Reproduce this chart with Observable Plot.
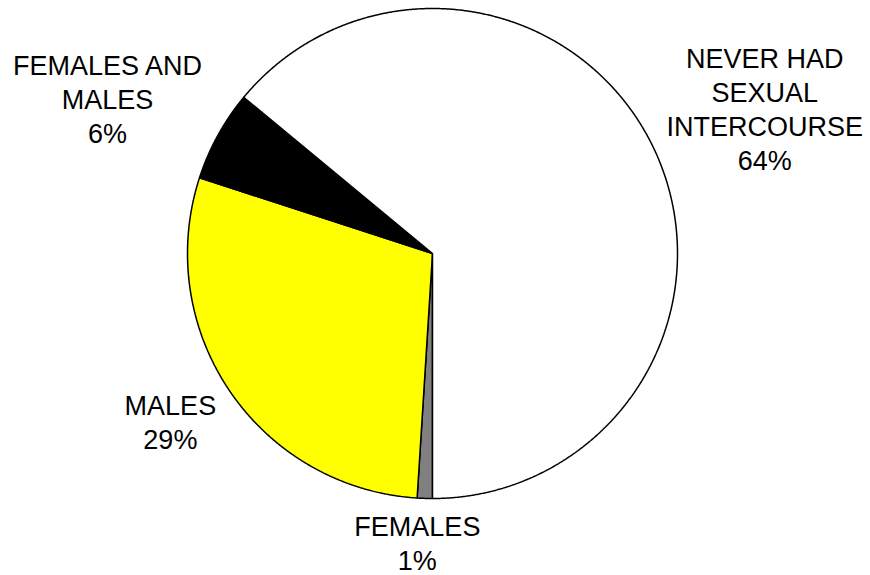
<!DOCTYPE html>
<html>
<head>
<meta charset="utf-8">
<script src="https://cdn.jsdelivr.net/npm/d3@7"></script>
<script src="https://cdn.jsdelivr.net/npm/@observablehq/plot@0.6"></script>
<style>
  html, body { margin: 0; padding: 0; background: #fff; }
</style>
</head>
<body>
<div id="chart"></div>
<script>
// Data
const categories = ["FEMALES", "MALES", "FEMALES AND MALES", "NEVER HAD SEXUAL INTERCOURSE"];
const labelTexts = ["FEMALES", "MALES", "FEMALES AND\nMALES", "NEVER HAD\nSEXUAL\nINTERCOURSE"];
const percents = [1, 29, 6, 64];
const colors = ["#808080", "#ffff00", "#000000", "#ffffff"];

// Label layout (style): angle nudge in degrees, distance as fraction of radius
const labelLayout = [
  {nudge: 1.2, k: 1.18},
  {nudge: 1.6, k: 1.27},
  {nudge: -3.3, k: 1.47},
  {nudge: 1.6, k: 1.48}
];

const table = categories.map((c, i) => ({category: c, label: labelTexts[i] + "\n" + percents[i] + "%", value: percents[i], color: colors[i]}));

// Slices clockwise starting at 6 o'clock
const arcs = d3.pie().sort(null).value(d => d.value).startAngle(Math.PI).endAngle(3 * Math.PI)(table);

// Build polygon outline points for each slice (angle measured clockwise from top)
const slicePts = [];
arcs.forEach(a => {
  const name = a.data.category;
  slicePts.push({category: name, x: 0, y: 0});
  const n = Math.max(4, Math.ceil((a.endAngle - a.startAngle) / (Math.PI / 720)));
  for (let j = 0; j <= n; j++) {
    const t = a.startAngle + (a.endAngle - a.startAngle) * j / n;
    slicePts.push({category: name, x: Math.sin(t), y: Math.cos(t)});
  }
  slicePts.push({category: name, x: 0, y: 0});
});

const labels = arcs.map((a, i) => {
  const mid = (a.startAngle + a.endAngle) / 2 + labelLayout[i].nudge * Math.PI / 180;
  const k = labelLayout[i].k;
  return {label: a.data.label, x: k * Math.sin(mid), y: k * Math.cos(mid)};
});

const chart = Plot.plot({
  width: 870,
  height: 575,
  marginLeft: 187,
  marginRight: 193,
  marginTop: 8,
  marginBottom: 77,
  x: {domain: [-1, 1], axis: null},
  y: {domain: [-1, 1], axis: null},
  color: {domain: categories, range: colors},
  style: {fontFamily: "'Liberation Sans', Arial, sans-serif", background: "#fff", overflow: "visible"},
  marks: [
    Plot.line(slicePts, {x: "x", y: "y", z: "category", fill: "category", stroke: "#000", strokeWidth: 1.5, strokeLinejoin: "miter"}),
    Plot.text(labels, {x: "x", y: "y", text: "label", fontSize: 27, lineHeight: 1.26, fill: "#000", textAnchor: "middle", lineAnchor: "middle"})
  ]
});
document.getElementById("chart").appendChild(chart);
</script>
</body>
</html>
